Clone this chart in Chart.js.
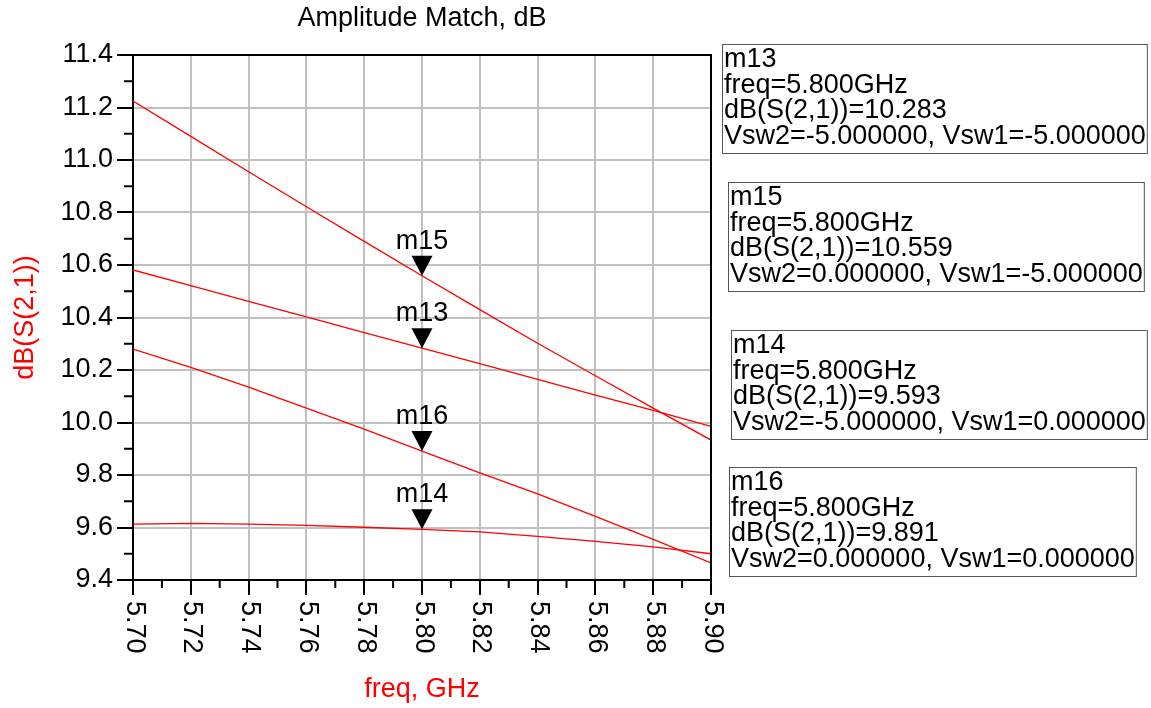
<!DOCTYPE html>
<html>
<head>
<meta charset="utf-8">
<script src="https://cdn.jsdelivr.net/npm/chart.js@4.4.1/dist/chart.umd.min.js"></script>
<style>
    html, body { margin: 0; padding: 0; background: #fff; }
    #wrap { width: 1151px; height: 708px; }
</style>
</head>
<body>
<div id="wrap"><canvas id="ampChart" width="1151" height="708"></canvas></div>
<script>
// Fréquences (GHz)
const freqGHz = [5.70, 5.72, 5.74, 5.76, 5.78, 5.80, 5.82, 5.84, 5.86, 5.88, 5.90];

// dB(S(2,1)) pour chaque combinaison Vsw2 / Vsw1
const dbV2m5V1m5 = [10.581, 10.521, 10.461, 10.402, 10.342, 10.283, 10.224, 10.164, 10.104, 10.046, 9.985];
const dbV20V1m5 = [11.225, 11.090, 10.955, 10.822, 10.690, 10.559, 10.430, 10.302, 10.178, 10.055, 9.933];
const dbV2m5V10 = [9.613, 9.616, 9.613, 9.608, 9.601, 9.593, 9.583, 9.566, 9.547, 9.526, 9.500];
const dbV20V10 = [10.280, 10.210, 10.135, 10.055, 9.975, 9.891, 9.808, 9.728, 9.642, 9.555, 9.465];

// Graduations
const xTickValues = [5.70, 5.72, 5.74, 5.76, 5.78, 5.80, 5.82, 5.84, 5.86, 5.88, 5.90];
const xTickLabels = ['5.70', '5.72', '5.74', '5.76', '5.78', '5.80', '5.82', '5.84', '5.86', '5.88', '5.90'];
const xMinorTicks = [5.71, 5.73, 5.75, 5.77, 5.79, 5.81, 5.83, 5.85, 5.87, 5.89];
const yTickValues = [9.4, 9.6, 9.8, 10.0, 10.2, 10.4, 10.6, 10.8, 11.0, 11.2, 11.4];
const yTickLabels = ['9.4', '9.6', '9.8', '10.0', '10.2', '10.4', '10.6', '10.8', '11.0', '11.2', '11.4'];
const yMinorTicks = [9.5, 9.7, 9.9, 10.1, 10.3, 10.5, 10.7, 10.9, 11.1, 11.3];

// Marqueurs (ordre du panneau de droite)
const markerNames = ['m13', 'm15', 'm14', 'm16'];
const markerFreq = [5.800, 5.800, 5.800, 5.800];
const markerDb = [10.283, 10.559, 9.593, 9.891];
const markerVsw2 = ['-5.000000', '0.000000', '-5.000000', '0.000000'];
const markerVsw1 = ['-5.000000', '-5.000000', '0.000000', '0.000000'];

const FONT = '"Liberation Sans", Arial, sans-serif';
const FSIZE = 27;
const RED = '#ff0000';

function toPoints(values) {
    return freqGHz.map((f, i) => ({ x: f, y: values[i] }));
}

function lineDataset(label, values) {
    return {
        label: label,
        data: toPoints(values),
        borderColor: RED,
        borderWidth: 1.3,
        pointRadius: 0,
        tension: 0,
        fill: false
    };
}

// Cadre, petites graduations, étiquettes x tournées, marqueurs et cartouches
const decorPlugin = {
    id: 'decor',
    afterDraw(chart) {
        const ctx = chart.ctx;
        const { left, right, top, bottom } = chart.chartArea;
        const xs = chart.scales.x;
        const ys = chart.scales.y;

        ctx.save();
        ctx.strokeStyle = '#000';
        ctx.lineWidth = 2;
        ctx.beginPath();
        ctx.moveTo(left - 1, top);
        ctx.lineTo(right, top);
        ctx.lineTo(right, bottom + 1);
        ctx.stroke();

        ctx.beginPath();
        yMinorTicks.forEach(v => {
            const y = ys.getPixelForValue(v);
            ctx.moveTo(left - 9, y);
            ctx.lineTo(left, y);
        });
        xMinorTicks.forEach(v => {
            const x = xs.getPixelForValue(v);
            ctx.moveTo(x, bottom);
            ctx.lineTo(x, bottom + 8);
        });
        ctx.stroke();

        // Étiquettes de l'axe x, lues de haut en bas
        ctx.fillStyle = '#000';
        ctx.font = FSIZE + 'px ' + FONT;
        ctx.textAlign = 'left';
        ctx.textBaseline = 'middle';
        xTickValues.forEach((v, i) => {
            const x = xs.getPixelForValue(v);
            ctx.save();
            ctx.translate(x + 1, bottom + 21);
            ctx.rotate(Math.PI / 2);
            ctx.fillText(xTickLabels[i], 0, 0);
            ctx.restore();
        });

        // Triangles des marqueurs
        markerNames.forEach((name, i) => {
            const x = xs.getPixelForValue(markerFreq[i]);
            const y = ys.getPixelForValue(markerDb[i]);
            ctx.beginPath();
            ctx.moveTo(x, y);
            ctx.lineTo(x - 10.5, y - 20);
            ctx.lineTo(x + 10.5, y - 20);
            ctx.closePath();
            ctx.fill();
            ctx.textAlign = 'center';
            ctx.textBaseline = 'alphabetic';
            ctx.fillText(name, x, y - 27);
        });

        // Cartouches des marqueurs
        const boxTops = [44, 182, 330, 467];
        const boxLefts = [722, 728, 731, 729];
        ctx.textAlign = 'left';
        ctx.textBaseline = 'alphabetic';
        markerNames.forEach((name, i) => {
            const lines = [
                name,
                'freq=' + markerFreq[i].toFixed(3) + 'GHz',
                'dB(S(2,1))=' + markerDb[i].toFixed(3),
                'Vsw2=' + markerVsw2[i] + ', Vsw1=' + markerVsw1[i]
            ];
            const bx = boxLefts[i];
            const by = boxTops[i];
            const w = Math.max(...lines.map(l => ctx.measureText(l).width)) + 3;
            ctx.strokeStyle = '#555';
            ctx.lineWidth = 1;
            ctx.strokeRect(bx + 0.5, by + 0.5, w, 109);
            lines.forEach((l, k) => ctx.fillText(l, bx + 2, by + 23 + k * 25.7));
        });
        ctx.restore();
    }
};

new Chart(document.getElementById('ampChart'), {
    type: 'line',
    data: {
        datasets: [
            lineDataset('Vsw2=-5, Vsw1=-5', dbV2m5V1m5),
            lineDataset('Vsw2=0, Vsw1=-5', dbV20V1m5),
            lineDataset('Vsw2=-5, Vsw1=0', dbV2m5V10),
            lineDataset('Vsw2=0, Vsw1=0', dbV20V10)
        ]
    },
    options: {
        responsive: false,
        animation: false,
        layout: { padding: { top: 0, right: 440, left: 0, bottom: 0 } },
        plugins: {
            legend: { display: false },
            tooltip: { enabled: false },
            title: {
                display: true,
                text: 'Amplitude Match, dB',
                fullSize: false,
                color: '#000',
                font: { family: FONT, size: FSIZE, weight: 'normal' },
                padding: { top: 2.8, bottom: 19.8 }
            }
        },
        scales: {
            x: {
                type: 'linear',
                min: 5.70,
                max: 5.90,
                afterBuildTicks: s => { s.ticks = xTickValues.map(v => ({ value: v })); },
                afterFit: s => { s.height = 128; },
                ticks: { display: false },
                grid: { color: '#c0c0c0', lineWidth: 2, tickColor: '#000', tickWidth: 2, tickLength: 15 },
                border: { color: '#000', width: 2 },
                title: {
                    display: true,
                    text: 'freq, GHz',
                    color: RED,
                    font: { family: FONT, size: FSIZE },
                    padding: { top: 0, bottom: 1.8 }
                }
            },
            y: {
                type: 'linear',
                min: 9.4,
                max: 11.4,
                afterBuildTicks: s => { s.ticks = yTickValues.map(v => ({ value: v })); },
                afterFit: s => { s.width = 133; },
                ticks: {
                    color: '#000',
                    padding: 4,
                    font: { family: FONT, size: FSIZE },
                    callback: (v, i) => yTickLabels[i]
                },
                grid: { color: '#c0c0c0', lineWidth: 2, tickColor: '#000', tickWidth: 2, tickLength: 16 },
                border: { color: '#000', width: 2 },
                title: {
                    display: true,
                    text: 'dB(S(2,1))',
                    color: RED,
                    font: { family: FONT, size: FSIZE },
                    padding: { top: 9.8, bottom: 0 }
                }
            }
        }
    },
    plugins: [decorPlugin]
});
</script>
</body>
</html>
